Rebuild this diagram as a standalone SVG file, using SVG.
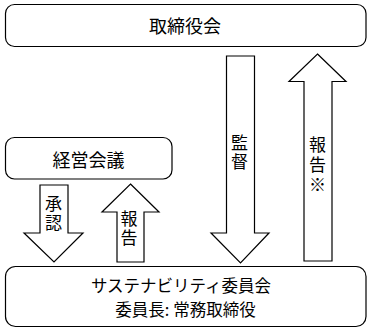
<svg xmlns="http://www.w3.org/2000/svg" width="371" height="331" viewBox="0 0 371 331">
<style>
.box{fill:#fff;stroke:#000;stroke-width:1.2}
.arr{fill:#fff;stroke:#000;stroke-width:1.2;stroke-linejoin:miter}
text{font-family:"Noto Sans CJK JP","Noto Sans CJK SC",sans-serif;fill:#000;text-anchor:middle;dominant-baseline:central}
.t18{font-size:18px}
.v{font-size:17px;writing-mode:vertical-rl;letter-spacing:2px}
.t16{font-size:16.5px}
</style>
<rect width="371" height="331" fill="#fff"/>
<g id="connectors">
<g id="arrow-shonin">
<polygon class="arr" points="40,185 68,185 68,233 83,233 54,262 24,233 40,233"/>
<text class="v" x="53.5" y="214.5">承認</text>
</g>
<g id="arrow-hokoku1">
<polygon class="arr" points="130.5,184 159,212 144,212 144,262 117,262 117,212 102,212"/>
<text class="v" x="129" y="229.5">報告</text>
</g>
<g id="arrow-kansa">
<polygon class="arr" points="226.5,56 254.5,56 254.5,233 269,233 240.5,263 211,233 226.5,233"/>
<text class="v" x="239.5" y="153.5">監督</text>
</g>
<g id="arrow-hokoku2">
<polygon class="arr" points="317.5,54 346,81.5 332,81.5 332,261 304,261 304,81.5 289,81.5"/>
<text class="v" x="317.5" y="166" style="letter-spacing:3px">報告※</text>
</g>
</g>
<g id="node-board">
<rect class="box" x="5.5" y="4.5" width="360.5" height="42" rx="9" ry="9"/>
<text class="t18" x="185" y="24.5">取締役会</text>
</g>
<g id="node-management">
<rect class="box" x="5.5" y="137.5" width="166.5" height="41.5" rx="9" ry="9"/>
<text class="t18" x="88.5" y="159">経営会議</text>
</g>
<g id="node-sustainability">
<rect class="box" x="5.5" y="266.5" width="360.5" height="60" rx="10" ry="10"/>
<text class="t16" x="181" y="285">サステナビリティ委員会</text>
<text class="t16" x="185.5" y="309">委員長: 常務取締役</text>
</g>
</svg>
